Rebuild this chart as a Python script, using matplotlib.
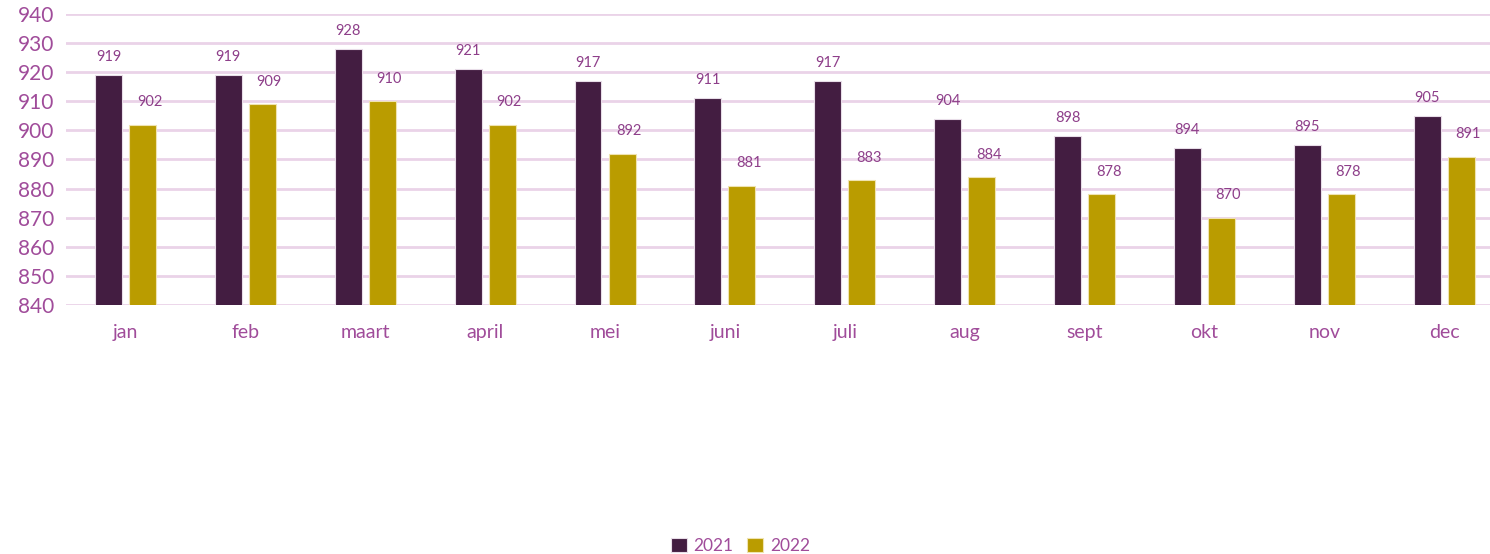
import numpy as np
import matplotlib
matplotlib.use("Agg")
import matplotlib.pyplot as plt

months = ["jan", "feb", "maart", "april", "mei", "juni", "juli", "aug", "sept", "okt", "nov", "dec"]
vals_2021 = [919, 919, 928, 921, 917, 911, 917, 904, 898, 894, 895, 905]
vals_2022 = [902, 909, 910, 902, 892, 881, 883, 884, 878, 870, 878, 891]

PURPLE = "#431D41"
GOLD = "#BA9C00"
TXT = "#A04C9A"
LBL = "#8E3F8A"
GRID = "#EAD3E8"

plt.rcParams['font.family'] = ['Lato', 'DejaVu Sans']

fig = plt.figure(figsize=(14.9, 5.54), dpi=100)
ax = fig.add_axes([0.044, 0.4495, 0.9655, 0.5252])

x = np.arange(len(months))
w = 0.225
off = 0.142
b1 = ax.bar(x - off, vals_2021, w, color=PURPLE, edgecolor="#E8DDE8", linewidth=0.8,
            label="2021", zorder=3)
b2 = ax.bar(x + off, vals_2022, w, color=GOLD, edgecolor="#EFE3B0", linewidth=0.8,
            label="2022", zorder=3)

for xi, v in zip(x, vals_2021):
    ax.annotate(str(v), (xi - off, v), xytext=(0, 8), textcoords="offset points",
                ha="center", va="bottom", fontsize=10.5, color=LBL)
for xi, v in zip(x, vals_2022):
    ax.annotate(str(v), (xi + off, v), xytext=(5, 11), textcoords="offset points",
                ha="center", va="bottom", fontsize=10.5, color=LBL)

ax.set_ylim(840, 940)
ax.set_xlim(-0.5, len(months) - 0.5)
ax.set_yticks(np.arange(840, 941, 10))
ax.set_xticks(x)
ax.set_xticklabels(months)
ax.yaxis.grid(True, color=GRID, linewidth=2, zorder=0)
ax.set_axisbelow(True)
for s in ax.spines.values():
    s.set_visible(False)
ax.tick_params(axis="both", length=0, colors=TXT)
ax.tick_params(axis="x", pad=14, labelsize=14)
ax.tick_params(axis="y", pad=8, labelsize=15)

fig.legend(handles=[b1, b2], loc="center", bbox_to_anchor=(0.497, 0.015), ncol=2, frameon=False,
           fontsize=12.5, labelcolor=TXT, handlelength=0.9, handleheight=0.9, handletextpad=0.4,
           columnspacing=0.8)

fig.savefig("out.png", dpi=100)
